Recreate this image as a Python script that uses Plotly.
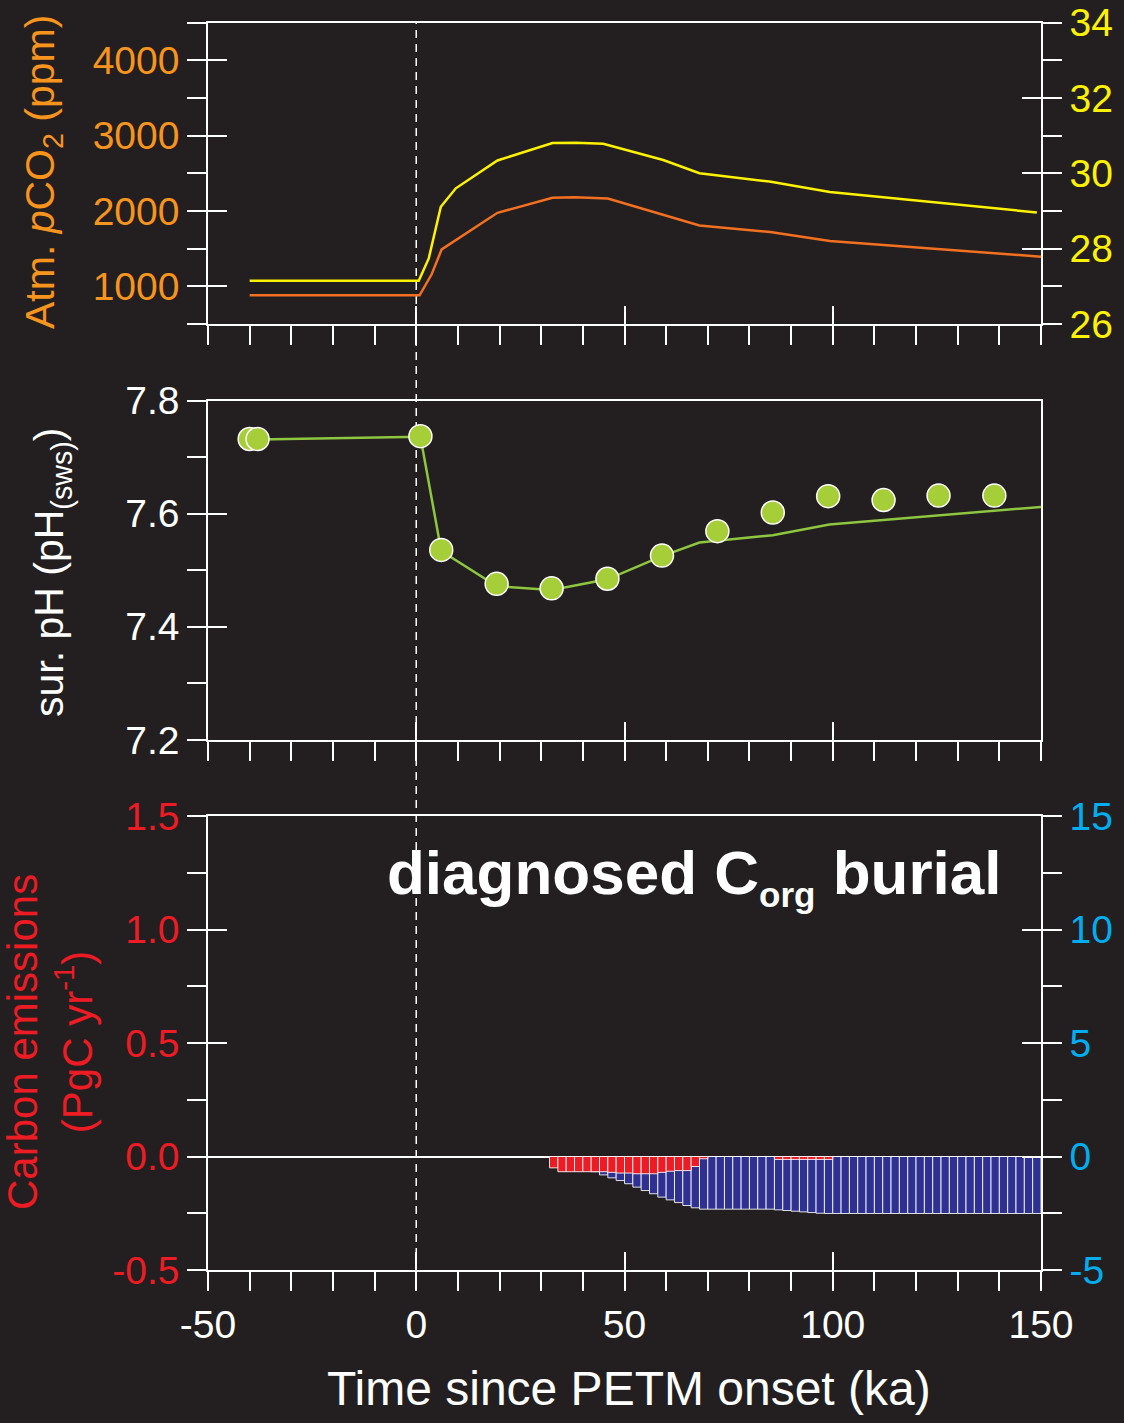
import plotly.graph_objects as go

# ---------------- data ----------------
# Top panel: atmospheric pCO2 (ppm, left axis) and temperature-like curve (right axis)
pco2_time = [-40, 0.8, 3.7, 6.1, 19.5, 32.7, 38.0, 46.0, 68.0, 85.0, 99.3, 150.0]
pco2_ppm = [880, 880, 1160, 1490, 1975, 2175, 2183, 2165, 1808, 1720, 1600, 1393]

temp_time = [-40, 0.6, 3.0, 5.9, 9.5, 19.5, 32.7, 38.3, 44.9, 59.3, 68.0, 84.8, 99.3, 149.0]
temp_val = [27.15, 27.15, 27.74, 29.11, 29.60, 30.34, 30.80, 30.81, 30.78, 30.35, 30.00, 29.78, 29.50, 28.96]

# Middle panel: surface pH, model line and data points
ph_line_time = [-38, 1.0, 6.0, 19.3, 32.5, 45.9, 59.0, 68.0, 85.6, 99.2, 150.0]
ph_line_val = [7.731, 7.736, 7.534, 7.472, 7.465, 7.484, 7.525, 7.549, 7.562, 7.581, 7.612]

ph_pts_time = [-40.0, -38.1, 1.0, 6.0, 19.3, 32.5, 45.9, 59.0, 72.3, 85.6, 98.9, 112.2, 125.4, 138.8]
ph_pts_val = [7.732, 7.732, 7.737, 7.536, 7.476, 7.468, 7.485, 7.526, 7.569, 7.602, 7.631, 7.624, 7.632, 7.632]

# Bottom panel: 2-ka bins (start of bin)
bin_start = list(range(32, 150, 2))
# carbon emissions (PgC/yr, left axis)
emis = [-0.050, -0.067, -0.067, -0.067, -0.067, -0.067, -0.067, -0.070, -0.073, -0.073,
        -0.076, -0.076, -0.076, -0.070, -0.065, -0.062, -0.062, -0.044, -0.010,
        0, 0, 0, 0, 0, 0, 0, 0,
        -0.013, -0.013, -0.013, -0.013, -0.013, -0.013, -0.013] + [0] * 25
# diagnosed Corg burial (right axis)
burial = [-0.05, -0.15, -0.28, -0.41, -0.54, -0.67, -0.81, -0.94, -1.06, -1.20,
          -1.35, -1.50, -1.64, -1.79, -1.91, -2.03, -2.16, -2.26, -2.32,
          -2.32, -2.32, -2.32, -2.32, -2.32, -2.32, -2.32, -2.32,
          -2.35, -2.38, -2.41, -2.44, -2.47, -2.50, -2.51] + [-2.51] * 25

x_ticks = [-50, 0, 50, 100, 150]
x_tick_text = ["-50", "0", "50", "100", "150"]
pco2_ticks = [1000, 2000, 3000, 4000]
temp_ticks = [26, 28, 30, 32, 34]
ph_ticks = [7.2, 7.4, 7.6, 7.8]
ph_tick_text = ["7.2", "7.4", "7.6", "7.8"]
emis_ticks = [-0.5, 0.0, 0.5, 1.0, 1.5]
emis_tick_text = ["-0.5", "0.0", "0.5", "1.0", "1.5"]
burial_ticks = [-5, 0, 5, 10, 15]
burial_tick_text = ["-5", "0", "5", "10", "15"]

# ---------------- style ----------------
BG = "#231f20"
FONT = "Liberation Sans, Arial, sans-serif"
ORANGE_TXT = "#f7941d"
ORANGE_LINE = "#f37021"
YELLOW = "#fff200"
GREEN = "#a6ce39"
GREEN_LINE = "#8dc63f"
RED = "#ed1c24"
CYAN = "#00aeef"
BLUE = "#2e3192"
W, H = 1124, 1423
TL = 19
TW = 1.5
LS = 39

def px_x(p):
    return p / W

def px_y(p):
    return (H - p) / H

xdom = [px_x(208), px_x(1041)]
dom1 = [px_y(324), px_y(22.5)]
dom2 = [px_y(740), px_y(400.5)]
dom3 = [px_y(1270), px_y(816)]

fig = go.Figure()

# top panel
fig.add_trace(go.Scatter(x=pco2_time, y=pco2_ppm, mode="lines",
                         line=dict(color=ORANGE_LINE, width=2.5), xaxis="x", yaxis="y", showlegend=False))
fig.add_trace(go.Scatter(x=temp_time, y=temp_val, mode="lines",
                         line=dict(color=YELLOW, width=2.5), xaxis="x", yaxis="y2", showlegend=False))
# middle panel
fig.add_trace(go.Scatter(x=ph_line_time, y=ph_line_val, mode="lines",
                         line=dict(color=GREEN_LINE, width=2.5), xaxis="x2", yaxis="y3", showlegend=False))
fig.add_trace(go.Scatter(x=ph_pts_time, y=ph_pts_val, mode="markers",
                         marker=dict(color=GREEN, size=23, line=dict(color="white", width=1.5)),
                         xaxis="x2", yaxis="y3", showlegend=False))
# bottom panel (blue on base axis, red on overlaying axis so red draws on top)
fig.add_trace(go.Bar(x=bin_start, y=burial, width=2, offset=0,
                     marker=dict(color=BLUE, line=dict(color="rgba(255,255,255,0.85)", width=1)),
                     xaxis="x3", yaxis="y5", showlegend=False))
fig.add_trace(go.Bar(x=bin_start, y=emis, width=2, offset=0,
                     marker=dict(color=RED, line=dict(color="rgba(255,255,255,0.85)", width=1)),
                     xaxis="x3", yaxis="y6", showlegend=False))

# dummy traces so tick-overlay axes are drawn
for xa, ya in [("x4", "y"), ("x", "y7"), ("x", "y8"), ("x5", "y3"), ("x2", "y9"), ("x6", "y5"), ("x3", "y10")]:
    fig.add_trace(go.Scatter(x=[None], y=[None], mode="lines", xaxis=xa, yaxis=ya,
                             showlegend=False, hoverinfo="skip"))

def xbase(anchor, labels=False):
    d = dict(domain=xdom, anchor=anchor, range=[-50, 150], showgrid=False, zeroline=False,
             showline=True, linecolor="white", linewidth=TW, mirror=True, automargin=False,
             tickvals=x_ticks, ticktext=x_tick_text, ticks="outside", ticklen=TL, tickwidth=TW,
             tickcolor="white",
             minor=dict(dtick=10, tick0=0, ticks="outside", ticklen=TL, tickwidth=TW, tickcolor="white"),
             showticklabels=labels, tickfont=dict(family=FONT, size=LS, color="white"))
    return d

def xinside(over, anchor):
    return dict(overlaying=over, anchor=anchor, range=[-50, 150], showgrid=False, zeroline=False,
                showline=False, tickvals=x_ticks, ticks="inside", ticklen=18, tickwidth=TW,
                tickcolor="white", showticklabels=False, automargin=False)

def yinside(over, anchor, side, rng, vals, mirror=False):
    d = dict(overlaying=over, anchor=anchor, side=side, range=rng, showgrid=False, zeroline=False,
             showline=False, tickvals=vals, ticks="inside", ticklen=TL, tickwidth=TW,
             tickcolor="white", showticklabels=False, automargin=False)
    if mirror:
        d["mirror"] = "ticks"
    return d

fig.update_layout(
    width=W, height=H,
    margin=dict(l=0, r=0, t=0, b=0, pad=0, autoexpand=False),
    paper_bgcolor=BG, plot_bgcolor="rgba(0,0,0,0)",
    barmode="overlay",
    font=dict(family=FONT, color="white"),
    xaxis=xbase("y"),
    xaxis2=xbase("y3"),
    xaxis3=xbase("y5", labels=True),
    xaxis4=xinside("x", "y"),
    xaxis5=xinside("x2", "y3"),
    xaxis6=xinside("x3", "y5"),
    yaxis=dict(domain=dom1, anchor="x", side="left", range=[500, 4500], showgrid=False, zeroline=False,
               showline=True, linecolor="white", linewidth=TW, automargin=False,
               tickvals=pco2_ticks, ticks="outside", ticklen=TL, tickwidth=TW, tickcolor="white",
               minor=dict(tickvals=[500, 1500, 2500, 3500, 4500], ticks="outside", ticklen=TL,
                          tickwidth=TW, tickcolor="white"),
               tickfont=dict(family=FONT, size=LS, color=ORANGE_TXT)),
    yaxis2=dict(overlaying="y", anchor="x", side="right", range=[26, 34], showgrid=False, zeroline=False,
                showline=True, linecolor="white", linewidth=TW, automargin=False,
                tickvals=temp_ticks, ticks="outside", ticklen=TL, tickwidth=TW, tickcolor="white",
                minor=dict(tickvals=[27, 29, 31, 33], ticks="outside", ticklen=TL,
                           tickwidth=TW, tickcolor="white"),
                tickfont=dict(family=FONT, size=LS, color=YELLOW)),
    yaxis7=yinside("y", "x", "left", [500, 4500], pco2_ticks),
    yaxis8=yinside("y", "x", "right", [26, 34], temp_ticks),
    yaxis3=dict(domain=dom2, anchor="x2", side="left", range=[7.2, 7.8], showgrid=False, zeroline=False,
                showline=True, linecolor="white", linewidth=TW, mirror=True, automargin=False,
                tickvals=ph_ticks, ticktext=ph_tick_text, ticks="outside", ticklen=TL, tickwidth=TW,
                tickcolor="white",
                minor=dict(tickvals=[7.3, 7.5, 7.7], ticks="outside", ticklen=TL,
                           tickwidth=TW, tickcolor="white"),
                tickfont=dict(family=FONT, size=LS, color="white")),
    yaxis9=yinside("y3", "x2", "left", [7.2, 7.8], ph_ticks),
    yaxis5=dict(domain=dom3, anchor="x3", side="right", range=[-5, 15], showgrid=False,
                zeroline=True, zerolinecolor="white", zerolinewidth=TW, automargin=False,
                showline=True, linecolor="white", linewidth=TW,
                tickvals=burial_ticks, ticktext=burial_tick_text, ticks="outside", ticklen=TL,
                tickwidth=TW, tickcolor="white",
                minor=dict(tickvals=[-2.5, 2.5, 7.5, 12.5], ticks="outside", ticklen=TL,
                           tickwidth=TW, tickcolor="white"),
                tickfont=dict(family=FONT, size=LS, color=CYAN)),
    yaxis6=dict(overlaying="y5", anchor="x3", side="left", range=[-0.5, 1.5], showgrid=False,
                zeroline=False, showline=True, linecolor="white", linewidth=TW, automargin=False,
                tickvals=emis_ticks, ticktext=emis_tick_text, ticks="outside", ticklen=TL,
                tickwidth=TW, tickcolor="white",
                minor=dict(tickvals=[-0.25, 0.25, 0.75, 1.25], ticks="outside", ticklen=TL,
                           tickwidth=TW, tickcolor="white"),
                tickfont=dict(family=FONT, size=LS, color=RED)),
    yaxis10=yinside("y5", "x3", "left", [-5, 15], burial_ticks, mirror=True),
)

# dashed onset line across all panels
fig.add_shape(type="line", xref="x", yref="paper", x0=0, x1=0, y0=px_y(1270), y1=px_y(22.5),
              line=dict(color="white", width=1.5, dash="8px,6px"), layer="below")

annots = [
    dict(text="Atm. <i>p</i>CO<sub>2</sub> (ppm)", x=px_x(43), y=px_y(172), textangle=-90,
         font=dict(family=FONT, size=41, color=ORANGE_TXT)),
    dict(text="sur. pH (pH<sub>(sws)</sub>)", x=px_x(52), y=px_y(572), textangle=-90,
         font=dict(family=FONT, size=41, color="white")),
    dict(text="Carbon emissions<br>(PgC yr<sup>-1</sup>)", x=px_x(50), y=px_y(1042), textangle=-90,
         font=dict(family=FONT, size=42, color=RED)),
    dict(text="Time since PETM onset (ka)", x=px_x(629), y=px_y(1388),
         font=dict(family=FONT, size=48, color="white")),
]
for a in annots:
    fig.add_annotation(xref="paper", yref="paper", showarrow=False, xanchor="center", yanchor="middle", **a)

fig.add_annotation(xref="paper", yref="paper", showarrow=False, xanchor="left", yanchor="middle",
                   x=px_x(385), y=px_y(876),
                   text="<b>diagnosed C<sub><span style='font-size:35px'>org</span></sub> burial</b>",
                   font=dict(family=FONT, size=62, color="white"))

fig.write_html("out.html")
